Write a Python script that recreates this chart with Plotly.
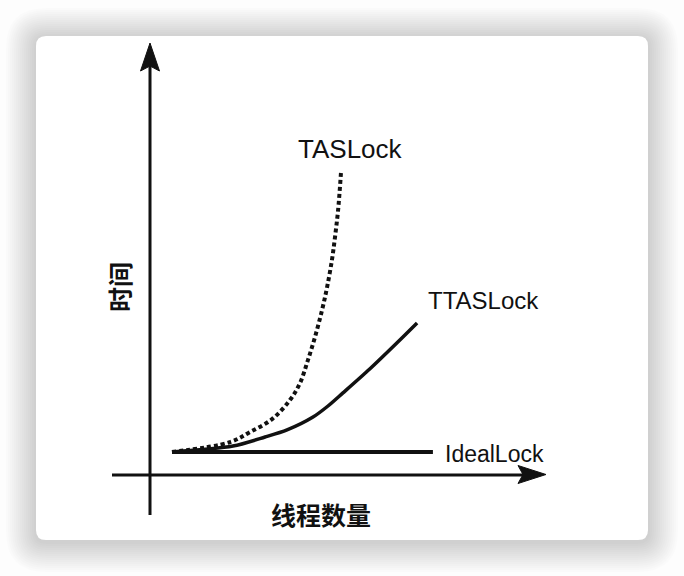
import plotly.graph_objects as go

# ---- data (arbitrary units) ----
tas_threads = [1.0, 3.64, 4.55, 5.55, 6.36, 6.82, 7.18, 7.5, 7.82, 8.05, 8.27, 8.41, 8.55, 8.68]
tas_time = [1.0, 1.43, 1.87, 2.43, 3.26, 4.0, 5.0, 6.0, 7.17, 8.17, 9.35, 10.35, 11.52, 13.13]

ttas_threads = [1.0, 3.77, 5.23, 6.23, 7.41, 8.09, 8.77, 10.0, 11.23, 12.14]
ttas_time = [1.0, 1.26, 1.65, 1.96, 2.52, 3.0, 3.57, 4.62, 5.75, 6.61]

ideal_threads = [1.0, 12.86]
ideal_time = [1.0, 1.0]

series_names = ["TASLock", "TTASLock", "IdealLock"]
x_label = "线程数量"
y_label = "时间"

W, H = 684, 576
X0PX, Y0PX = 150, 475     # pixel position of origin
SX, SY = 22.0, 23.0       # pixels per unit


def px(xp):
    return xp / W


def py(yp):
    return 1 - yp / H


def rounded_rect(x0, y0, x1, y1, r):
    # pixel coords -> paper path
    return (f"M {px(x0 + r)} {py(y0)} L {px(x1 - r)} {py(y0)} "
            f"Q {px(x1)} {py(y0)} {px(x1)} {py(y0 + r)} "
            f"L {px(x1)} {py(y1 - r)} Q {px(x1)} {py(y1)} {px(x1 - r)} {py(y1)} "
            f"L {px(x0 + r)} {py(y1)} Q {px(x0)} {py(y1)} {px(x0)} {py(y1 - r)} "
            f"L {px(x0)} {py(y0 + r)} Q {px(x0)} {py(y0)} {px(x0 + r)} {py(y0)} Z")


fig = go.Figure()

fig.add_trace(go.Scatter(x=tas_threads, y=tas_time, mode="lines", name=series_names[0],
                         line=dict(color="#111", width=4, dash="4px,3px", shape="spline")))
fig.add_trace(go.Scatter(x=ttas_threads, y=ttas_time, mode="lines", name=series_names[1],
                         line=dict(color="#111", width=3.5, shape="spline", smoothing=0.8)))
fig.add_trace(go.Scatter(x=ideal_threads, y=ideal_time, mode="lines", name=series_names[2],
                         line=dict(color="#111", width=4)))

shapes = []
# card shadow
for k in range(30, 0, -2):
    shapes.append(dict(type="path", xref="paper", yref="paper", layer="below",
                       path=rounded_rect(36 - k, 36 - k + 2, 648 + k, 540 + k + 2, 10 + k),
                       fillcolor="rgba(0,0,0,0.012)", line=dict(width=0)))
# card
shapes.append(dict(type="path", xref="paper", yref="paper", layer="below",
                   path=rounded_rect(36, 36, 648, 540, 10),
                   fillcolor="white", line=dict(width=0)))
# axes
shapes.append(dict(type="line", xref="paper", yref="paper", x0=px(150), x1=px(150),
                   y0=py(515), y1=py(60), line=dict(color="#111", width=3)))
shapes.append(dict(type="line", xref="paper", yref="paper", x0=px(112), x1=px(530),
                   y0=py(475), y1=py(475), line=dict(color="#111", width=3)))
# arrow heads
shapes.append(dict(type="path", xref="paper", yref="paper",
                   path=f"M {px(150)} {py(43)} L {px(159.5)} {py(71)} L {px(150)} {py(66)} L {px(140.5)} {py(71)} Z",
                   fillcolor="#111", line=dict(color="#111", width=1)))
shapes.append(dict(type="path", xref="paper", yref="paper",
                   path=f"M {px(546)} {py(474.5)} L {px(518)} {py(465.5)} L {px(523)} {py(474.5)} L {px(518)} {py(483.5)} Z",
                   fillcolor="#111", line=dict(color="#111", width=1)))

lab_family = "Liberation Sans, Arial, sans-serif"
cjk_font = dict(family="Noto Sans CJK SC", size=25, color="#111", weight=700)


def dx(xp):
    return (xp - X0PX) / SX


def dy(yp):
    return (Y0PX - yp) / SY


annotations = [
    dict(x=dx(350), y=dy(149), text=series_names[0], showarrow=False,
         font=dict(family=lab_family, size=26, color="#111")),
    dict(x=dx(483), y=dy(300), text=series_names[1], showarrow=False,
         font=dict(family=lab_family, size=24, color="#111")),
    dict(x=dx(494), y=dy(454), text=series_names[2], showarrow=False,
         font=dict(family=lab_family, size=23, color="#111")),
    dict(x=dx(321), y=dy(514), text=x_label, showarrow=False, font=cjk_font),
    dict(x=dx(119), y=dy(287), text=y_label, showarrow=False, font=cjk_font, textangle=-90),
]

fig.update_layout(
    width=W, height=H,
    margin=dict(l=0, r=0, t=0, b=0, autoexpand=False),
    paper_bgcolor="#fdfdfd", plot_bgcolor="rgba(0,0,0,0)",
    showlegend=False,
    xaxis=dict(range=[dx(0), dx(W)], visible=False, fixedrange=True),
    yaxis=dict(range=[dy(H), dy(0)], visible=False, fixedrange=True),
    shapes=shapes,
    annotations=annotations,
)

fig.write_html("out.html", config={"displayModeBar": False},
               post_script="document.body.style.margin='0';document.body.style.overflow='hidden';")
